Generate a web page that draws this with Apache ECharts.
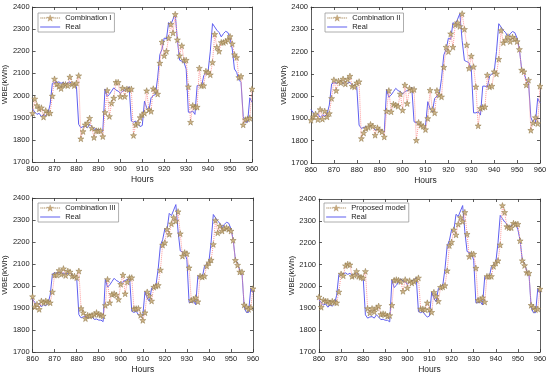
<!DOCTYPE html>
<html>
<head>
<meta charset="utf-8">
<script src="https://cdn.jsdelivr.net/npm/echarts@6/dist/echarts.min.js"></script>
<style>html,body{margin:0;padding:0;background:#fff}#c{width:550px;height:377px}</style>
</head>
<body>
<div id="c"></div>
<script>
const startHour = 860;
const xTicks = [860, 870, 880, 890, 900, 910, 920, 930, 940, 950, 960];
const yTicks = [1700, 1800, 1900, 2000, 2100, 2200, 2300, 2400];

const real = [
  1940,1925,1915,1920,1905,1915,1910,1920,1960,2055,
  2060,2058,2062,2055,2060,2050,2058,2062,2050,2045,
  2040,1870,1855,1860,1862,1855,1870,1860,1848,1850,
  1845,1845,1838,2030,1995,2005,2020,2035,2025,2020,
  2010,2020,2025,2030,2040,1885,1880,1885,1870,1860,
  1865,1975,1945,1930,1990,2000,2005,2080,2185,2210,
  2260,2255,2330,2320,2345,2370,2250,2160,2155,2150,
  2120,1925,1925,1930,1915,2045,2045,2040,2090,2100,
  2110,2200,2325,2310,2295,2285,2265,2280,2290,2285,
  2260,2210,2120,2105,2070,2060,1905,1880,1880,1990,
  1970
];
const combI = [
  1920,1985,1955,1940,1945,1903,1932,1921,1921,1998,
  2075,2052,2041,2032,2049,2050,2045,2084,2052,2045,
  2057,2090,1805,1838,1868,1876,1898,1853,1811,1841,
  1841,1841,1815,1924,2023,1906,1966,1989,2060,2060,
  1996,2034,1996,2030,2027,2030,1820,1868,1876,1901,
  1914,1921,2022,1936,1929,2031,2022,2007,2147,2242,
  2180,2200,2260,2322,2283,2367,2252,2180,2225,2160,
  2160,2040,1880,1955,1948,1948,2124,2045,2045,2110,
  2105,2094,2150,2277,2218,2200,2240,2240,2245,2252,
  2267,2234,2185,2172,2082,2087,1868,1891,1895,1898,
  2030
];
const combII = [
  1892,1907,1920,1895,1940,1897,1933,1907,1922,1990,
  2073,2025,2068,2060,2077,2055,2075,2090,2045,2042,
  2060,2065,1810,1835,1855,1860,1873,1865,1825,1858,
  1847,1840,1817,1933,2025,1930,1964,1960,1955,2010,
  1937,2050,1967,2035,2027,2030,1802,1882,1870,1865,
  1850,1900,2027,1940,1925,2025,2005,1997,2130,2220,
  2200,2280,2220,2320,2330,2313,2370,2300,2230,2125,
  2180,2132,2042,1867,1945,1950,1952,2095,2042,2045,
  2110,2100,2166,2295,2240,2252,2267,2245,2265,2256,
  2245,2210,2117,2110,2050,2072,1847,1880,1904,1877,
  2045
];
const combIII = [
  1952,1905,1917,1894,1932,1924,1932,1927,1924,1973,
  2050,2050,2071,2053,2079,2048,2068,2064,2045,2045,
  2038,2068,1898,1879,1852,1867,1864,1867,1871,1879,
  1871,1868,1864,1912,2030,1924,1962,1965,1959,1939,
  2008,2050,1965,2018,2038,2038,1897,1897,1898,1867,
  1844,1879,1973,1955,1932,1995,2000,2003,2073,2186,
  2197,2258,2235,2283,2311,2295,2338,2238,2136,2152,
  2147,2083,1935,1939,1947,1929,2045,2041,2045,2091,
  2106,2118,2189,2298,2242,2273,2250,2262,2265,2258,
  2250,2208,2117,2095,2064,2064,1914,1905,1894,1902,
  1988
];
const proposed = [
  1952,1905,1938,1932,1932,1925,1932,1928,1925,1975,
  2057,2049,2095,2102,2099,2046,2051,2069,2046,2042,
  2039,2069,1899,1879,1899,1884,1902,1910,1872,1875,
  1872,1864,1867,1914,2028,2031,2028,2023,1978,2031,
  1993,2026,2016,2023,2031,2039,1897,1897,1894,1925,
  1894,1882,1973,1955,1932,1996,1998,2004,2072,2187,
  2203,2259,2236,2285,2315,2297,2339,2239,2137,2149,
  2148,2084,1937,1940,1948,1929,2046,2046,2046,2092,
  2107,2118,2190,2370,2339,2274,2269,2269,2289,2285,
  2285,2209,2118,2096,2064,2061,1914,1905,1894,1897,
  1988
];
const hours = real.map((_, i) => startHour + i);
const panelNames = ['Combination I', 'Combination II', 'Combination III', 'Proposed model'];
const predictions = [combI, combII, combIII, proposed];

const grids = [
  {left: 32, top: 7, width: 220, height: 155},
  {left: 311, top: 7, width: 229, height: 156},
  {left: 32, top: 198, width: 221, height: 154},
  {left: 319, top: 199, width: 221, height: 153}
];
const legendPos = [
  {left: 38, top: 13},
  {left: 325, top: 13},
  {left: 38, top: 203},
  {left: 324, top: 203}
];
const STAR = 'path://M50,0 L61.2,34.5 L97.6,34.5 L68.2,55.9 L79.4,90.5 L50,69.1 L20.6,90.5 L31.8,55.9 L2.4,34.5 L38.8,34.5 Z';
// legend icon boxes (200 x 70 units): dotted line with a star, and a plain line
const PRED_ICON = 'path://M0,0 L0.5,0 L0.5,0.5 L0,0.5 Z M199.5,69.5 L200,69.5 L200,70 L199.5,70 Z ' +
  'M4,32 L12,32 L12,38 L4,38 Z M22,32 L30,32 L30,38 L22,38 Z M40,32 L48,32 L48,38 L40,38 Z M58,32 L66,32 L66,38 L58,38 Z ' +
  'M134,32 L142,32 L142,38 L134,38 Z M152,32 L160,32 L160,38 L152,38 Z M170,32 L178,32 L178,38 L170,38 Z M188,32 L196,32 L196,38 L188,38 Z ' +
  'M100,3 L107.9,27.3 L133.5,27.3 L112.8,42.3 L120.7,66.7 L100,51.6 L79.3,66.7 L87.2,42.3 L66.5,27.3 L92.1,27.3 Z';
const LINE_ICON = 'path://M0,0 L0.5,0 L0.5,0.5 L0,0.5 Z M0,31 L200,31 L200,39 L0,39 Z M199.5,69.5 L200,69.5 L200,70 L199.5,70 Z';
const axisCol = '#333';
const font = 'Liberation Sans, Arial, sans-serif';

const xAxis = [], yAxis = [], series = [], legend = [];
grids.forEach((g, i) => {
  const common = {
    type: 'value', gridIndex: i,
    axisLine: {show: true, lineStyle: {color: axisCol, width: 0.8}},
    axisTick: {show: true, inside: true, length: 3, lineStyle: {color: axisCol, width: 0.8}},
    splitLine: {show: false}
  };
  xAxis.push(Object.assign({}, common, {
    position: 'bottom', min: xTicks[0], max: xTicks[xTicks.length - 1], interval: 10,
    axisLabel: {fontSize: 7.5, color: '#222', margin: 3, fontFamily: font, formatter: v => String(v)},
    name: 'Hours', nameLocation: 'middle', nameGap: 13,
    nameTextStyle: {fontSize: 8.5, color: '#222', fontFamily: font}
  }));
  xAxis.push(Object.assign({}, common, {
    position: 'top', min: xTicks[0], max: xTicks[xTicks.length - 1], interval: 10,
    axisLabel: {show: false}
  }));
  yAxis.push(Object.assign({}, common, {
    position: 'left', min: yTicks[0], max: yTicks[yTicks.length - 1], interval: 100,
    axisLabel: {fontSize: 7.5, color: '#222', margin: 3, fontFamily: font, formatter: v => String(v)},
    name: 'WBE(kWh)', nameLocation: 'middle', nameGap: 20, nameRotate: 90,
    nameTextStyle: {fontSize: 8, color: '#222', fontFamily: font}
  }));
  yAxis.push(Object.assign({}, common, {
    position: 'right', min: yTicks[0], max: yTicks[yTicks.length - 1], interval: 100,
    axisLabel: {show: false}
  }));
  series.push({
    name: panelNames[i], type: 'line', xAxisIndex: 2 * i, yAxisIndex: 2 * i,
    data: hours.map((h, k) => [h, predictions[i][k]]),
    symbol: STAR, symbolSize: 6, showSymbol: true,
    lineStyle: {type: 'dotted', color: '#ff9a9a', width: 1},
    itemStyle: {color: '#cdb488', borderColor: '#8c7444', borderWidth: 0.5},
    z: 3, animation: false
  });
  series.push({
    name: 'Real', type: 'line', xAxisIndex: 2 * i, yAxisIndex: 2 * i,
    data: hours.map((h, k) => [h, real[k]]),
    symbol: 'none', smooth: false,
    lineStyle: {color: '#5f5ff0', width: 1},
    itemStyle: {color: '#5f5ff0'},
    z: 2, animation: false
  });
  legend.push({
    left: legendPos[i].left, top: legendPos[i].top, orient: 'vertical',
    data: [
      {name: panelNames[i], icon: PRED_ICON, itemStyle: {color: '#c9a97a', borderColor: '#9a7a4a', borderWidth: 0.3}},
      {name: 'Real', icon: LINE_ICON, itemStyle: {color: '#5f5ff0', borderWidth: 0}}
    ],
    itemWidth: 20, itemHeight: 7, itemGap: 1,
    symbolKeepAspect: false,
    padding: [1, 3, 1, 2],
    borderColor: '#999', borderWidth: 0.8, backgroundColor: '#fff',
    textStyle: {fontSize: 7.5, lineHeight: 8, color: '#222', fontFamily: font},
    selectedMode: false
  });
});

const chart = echarts.init(document.getElementById('c'), null, {renderer: 'canvas'});
chart.setOption({
  backgroundColor: '#fff',
  animation: false,
  grid: grids,
  xAxis: xAxis,
  yAxis: yAxis,
  legend: legend,
  series: series
});
</script>
</body>
</html>
